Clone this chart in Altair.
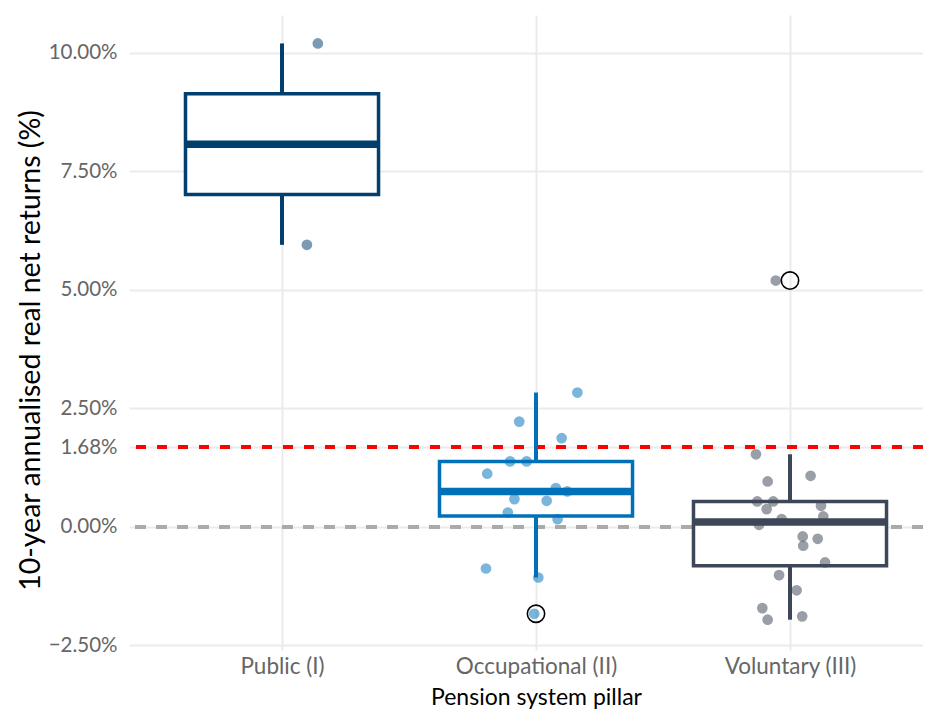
import json
import altair as alt
import pandas as pd

# ---- data ----
pillars = ["Public (I)", "Occupational (II)", "Voluntary (III)"]
colors = ["#003F6E", "#0071B9", "#3D4757"]

public_vals = [10.20, 5.95]
public_jit = [0.141, 0.098]

occup_vals = [2.833, 2.22, 1.87, 1.38, 1.38, 1.12, 0.816, 0.745, 0.584, 0.548,
              0.30, 0.16, -0.88, -1.07, -1.835]
occup_jit = [0.163, -0.066, 0.101, -0.102, -0.037, -0.192, 0.078, 0.123, -0.085,
             0.042, -0.111, 0.085, -0.197, 0.009, -0.007]

volun_vals = [5.197, 1.53, 0.956, 1.076, 0.534, 0.534, 0.373, 0.443, 0.162, 0.218,
              0.042, -0.204, -0.253, -0.40, -0.753, -1.02, -1.34, -1.716, -1.89, -1.96]
volun_jit = [-0.056, -0.134, -0.088, 0.081, -0.129, -0.066, -0.092, 0.122, -0.033,
             0.131, -0.122, 0.05, 0.109, 0.052, 0.138, -0.043, 0.026, -0.109, 0.048, -0.088]

threshold = 1.68
y_ticks = [-2.5, 0, 1.68, 2.5, 5, 7.5, 10]

rows = []
for i, (name, vals, jit) in enumerate(zip(pillars,
                                          [public_vals, occup_vals, volun_vals],
                                          [public_jit, occup_jit, volun_jit])):
    for v, j in zip(vals, jit):
        rows.append({"pillar": name, "idx": i + 1, "value": v, "jit": j})
df = pd.DataFrame(rows)

FONT = "Lato"
W, H = 794, 635

xscale = alt.Scale(domain=[0.3976, 3.5236], nice=False, zero=False)
yscale = alt.Scale(domain=[-2.6, 10.8], nice=False, zero=False)

label_expr = json.dumps([""] + pillars) + "[datum.value]"
xaxis = alt.Axis(values=[1, 2, 3], labelExpr=label_expr, title="Pension system pillar",
                 grid=True, labelPadding=5, labelFontSize=22.5,
                 titleFontSize=23, titleX=407, titleY=54,
                 titleBaseline="alphabetic", titleAlign="center")
yaxis = alt.Axis(values=y_ticks, labelExpr="format(datum.value, '.2f') + '%'",
                 title="10-year annualised real net returns (%)", grid=True,
                 labelPadding=12, labelFontSize=20.5, titleFontSize=28.5,
                 titleX=-99, titleY=335, titleAngle=-90,
                 titleBaseline="middle", titleAlign="center")


def X(field, **kw):
    return alt.X(field, type="quantitative", scale=xscale, axis=xaxis,
                 title="Pension system pillar", **kw)


def Y(field):
    return alt.Y(field, type="quantitative", scale=yscale, axis=yaxis,
                 title="10-year annualised real net returns (%)")


col = alt.Color("pillar:N", scale=alt.Scale(domain=pillars, range=colors), legend=None)
strk = alt.Stroke("pillar:N", scale=alt.Scale(domain=pillars, range=colors), legend=None)

base = alt.Chart(df)

fences = base.transform_joinaggregate(
    fq1="q1(value)", fq3="q3(value)", groupby=["pillar"]
).transform_calculate(
    lo="datum.fq1 - 1.5*(datum.fq3 - datum.fq1)",
    hi="datum.fq3 + 1.5*(datum.fq3 - datum.fq1)",
)

stats = fences.transform_calculate(
    inl="(datum.value >= datum.lo && datum.value <= datum.hi) ? datum.value : null"
).transform_aggregate(
    q1="q1(value)", med="median(value)", q3="q3(value)",
    wlo="min(inl)", whi="max(inl)", groupby=["pillar", "idx"]
).transform_calculate(xl="datum.idx - 0.38", xr="datum.idx + 0.38")

zero_line = base.mark_rule(color="#AAAAAA", strokeWidth=3.5, strokeDash=[11, 10]).encode(
    y=alt.Y(datum=0, type="quantitative", scale=yscale, axis=yaxis,
            title="10-year annualised real net returns (%)")
)
red_line = base.mark_rule(color="#FF0000", strokeWidth=3.5, strokeDash=[10, 11]).encode(
    y=alt.Y(datum=threshold, type="quantitative", scale=yscale, axis=yaxis,
            title="10-year annualised real net returns (%)")
)

box = stats.mark_bar(fill="white", strokeWidth=3.5).encode(
    x=X("xl"), x2="xr", y=Y("q1"), y2="q3", stroke=strk
)
whisk_hi = stats.mark_rule(strokeWidth=4).encode(
    x=X("idx"), y=Y("q3"), y2="whi", color=col
)
whisk_lo = stats.mark_rule(strokeWidth=4).encode(
    x=X("idx"), y=Y("wlo"), y2="q1", color=col
)
median = stats.mark_rule(strokeWidth=7.5).encode(
    x=X("xl"), x2="xr", y=Y("med"), color=col
)
points = base.transform_calculate(xj="datum.idx + datum.jit").mark_circle(
    size=115, opacity=0.52
).encode(x=X("xj"), y=Y("value"), color=col)

outliers = fences.transform_filter(
    "datum.value < datum.lo || datum.value > datum.hi"
).mark_point(shape="circle", filled=False, size=300, color="black",
             strokeWidth=1.6, opacity=1).encode(x=X("idx"), y=Y("value"))

chart = alt.layer(
    zero_line, red_line, box, whisk_hi, whisk_lo, median, points, outliers
).properties(
    width=W, height=H,
    autosize=alt.AutoSizeParams(type="none"),
    padding={"left": 121, "top": 7, "right": 0, "bottom": 59},
).configure_view(stroke=None).configure_axis(
    gridColor="#EBEBEB", gridWidth=2, domain=False, ticks=False,
    labelColor="#666666", labelFont=FONT,
    titleFont=FONT, titleColor="black", titleFontWeight="normal",
)

chart.save("out.html", embed_options={"renderer": "svg", "actions": False})
